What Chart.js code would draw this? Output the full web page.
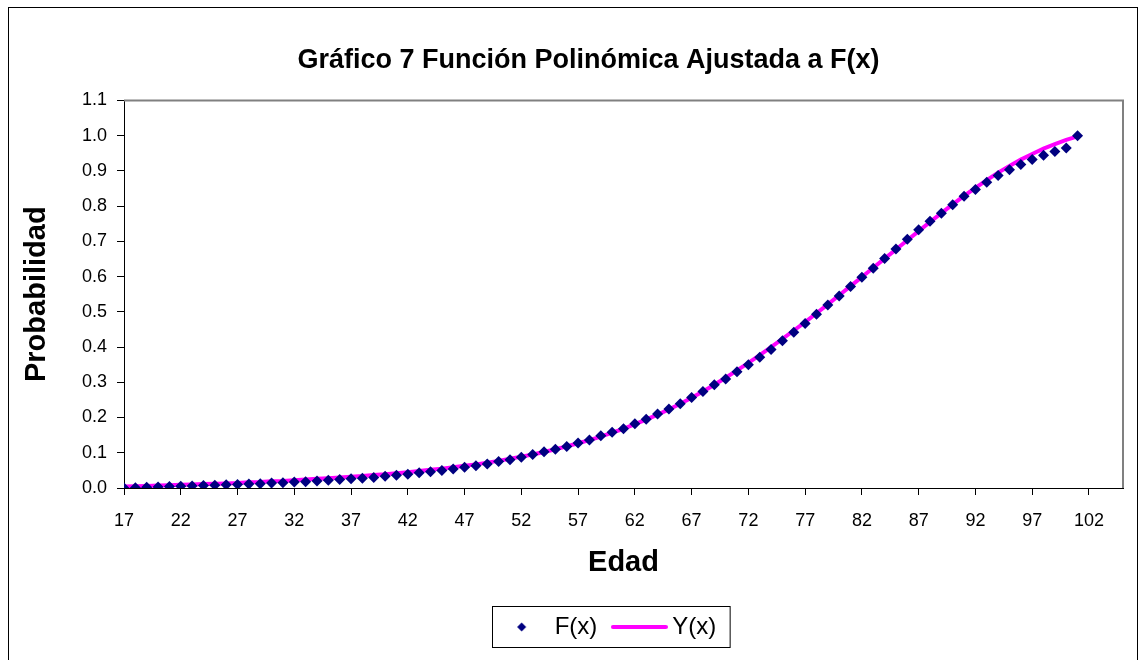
<!DOCTYPE html>
<html lang="es">
<head>
<meta charset="utf-8">
<title>Gráfico 7</title>
<script src="https://cdn.jsdelivr.net/npm/chart.js@4/dist/chart.umd.min.js"></script>
<style>
  html, body { margin: 0; padding: 0; background: #fff; }
  #wrap { width: 1145px; height: 660px; }
</style>
</head>
<body>
<div id="wrap"><canvas id="grafico7" width="1145" height="660"></canvas></div>
<script>
// edades (eje X)
const edades = [
  17, 18, 19, 20, 21, 22, 23, 24, 25, 26, 27, 28, 29, 30, 31, 32, 33, 34, 35, 36,
  37, 38, 39, 40, 41, 42, 43, 44, 45, 46, 47, 48, 49, 50, 51, 52, 53, 54, 55, 56,
  57, 58, 59, 60, 61, 62, 63, 64, 65, 66, 67, 68, 69, 70, 71, 72, 73, 74, 75, 76,
  77, 78, 79, 80, 81, 82, 83, 84, 85, 86, 87, 88, 89, 90, 91, 92, 93, 94, 95, 96,
  97, 98, 99, 100, 101,
];

// F(x) observada
const valoresF = [
  0.000, 0.001, 0.002, 0.003, 0.004, 0.005, 0.006, 0.007, 0.008, 0.009,
  0.010, 0.011, 0.012, 0.014, 0.015, 0.017, 0.018, 0.020, 0.022, 0.024,
  0.026, 0.028, 0.030, 0.033, 0.036, 0.039, 0.043, 0.046, 0.050, 0.054,
  0.059, 0.063, 0.068, 0.075, 0.080, 0.087, 0.095, 0.103, 0.110, 0.118,
  0.128, 0.136, 0.148, 0.158, 0.168, 0.182, 0.195, 0.210, 0.224, 0.239,
  0.257, 0.274, 0.293, 0.309, 0.330, 0.350, 0.371, 0.393, 0.418, 0.442,
  0.467, 0.493, 0.519, 0.545, 0.572, 0.598, 0.624, 0.651, 0.678, 0.706,
  0.733, 0.757, 0.780, 0.804, 0.828, 0.847, 0.868, 0.887, 0.903, 0.918,
  0.932, 0.944, 0.955, 0.965, 1.000,
];

// Y(x) polinomio ajustado
const valoresY = [
  0.004, 0.005, 0.006, 0.007, 0.008, 0.009, 0.010, 0.011, 0.012, 0.013,
  0.014, 0.016, 0.017, 0.019, 0.020, 0.022, 0.024, 0.026, 0.028, 0.030,
  0.032, 0.034, 0.037, 0.039, 0.042, 0.045, 0.048, 0.052, 0.055, 0.059,
  0.063, 0.067, 0.072, 0.077, 0.083, 0.089, 0.095, 0.102, 0.110, 0.118,
  0.127, 0.136, 0.146, 0.157, 0.168, 0.181, 0.194, 0.208, 0.223, 0.239,
  0.256, 0.274, 0.293, 0.313, 0.334, 0.355, 0.377, 0.400, 0.423, 0.447,
  0.471, 0.496, 0.521, 0.547, 0.573, 0.599, 0.625, 0.651, 0.677, 0.703,
  0.729, 0.755, 0.780, 0.805, 0.829, 0.852, 0.874, 0.895, 0.914, 0.932,
  0.948, 0.963, 0.976, 0.988, 0.998,
];

// etiquetas del eje X
const ticksEdad = [17, 22, 27, 32, 37, 42, 47, 52, 57, 62, 67, 72, 77, 82, 87, 92, 97, 102];

const FUENTE = 'Arial, "Liberation Sans", sans-serif';

// simbolos de la leyenda (mismo ancho que en Excel)
function simbolo(tipo) {
  const c = document.createElement('canvas');
  c.width = 57;
  c.height = 12;
  const g = c.getContext('2d');
  if (tipo === 'rombo') {
    g.fillStyle = '#000080';
    g.beginPath();
    g.moveTo(28.5, 1.5);
    g.lineTo(33, 6);
    g.lineTo(28.5, 10.5);
    g.lineTo(24, 6);
    g.closePath();
    g.fill();
  } else {
    g.strokeStyle = '#FF00FF';
    g.lineWidth = 4;
    g.lineCap = 'round';
    g.beginPath();
    g.moveTo(2, 6);
    g.lineTo(55, 6);
    g.stroke();
  }
  return c;
}
const simbolos = [simbolo('rombo'), simbolo('linea')];

// marco del grafico, borde del area de trazado y caja de la leyenda
const marcos = {
  id: 'marcos',
  afterLayout(chart) {
    // en Excel el titulo y la leyenda quedan algo a la derecha del centro
    chart.titleBlock.left += 27;
    chart.titleBlock.right += 27;
    chart.legend.left += 47;
    chart.legend.right += 47;
  },
  beforeDatasetsDraw(chart) {
    const { ctx, chartArea: a } = chart;
    ctx.save();
    ctx.strokeStyle = '#808080';
    ctx.lineWidth = 2;
    ctx.beginPath();
    ctx.moveTo(a.left, a.top);
    ctx.lineTo(a.right, a.top);
    ctx.lineTo(a.right, a.bottom);
    ctx.stroke();
    ctx.restore();
  },
  afterDraw(chart) {
    const { ctx } = chart;
    ctx.save();
    ctx.strokeStyle = '#000';
    ctx.lineWidth = 1;
    ctx.strokeRect(8.5, 7.5, 1129, 700);
    const cajas = chart.legend.legendHitBoxes;
    if (cajas && cajas.length) {
      const izq = Math.min(...cajas.map((b) => b.left));
      const der = Math.max(...cajas.map((b) => b.left + b.width));
      const cy = cajas[0].top + cajas[0].height / 2;
      ctx.strokeRect(Math.round(izq) - 8.5, Math.round(cy) - 20.5, der - izq + 22, 41);
    }
    ctx.restore();
  },
};

const ctx = document.getElementById('grafico7').getContext('2d');

new Chart(ctx, {
  type: 'line',
  data: {
    datasets: [
      {
        label: 'F(x)',
        data: edades.map((e, i) => ({ x: e, y: valoresF[i] })),
        showLine: false,
        pointStyle: 'rectRot',
        pointRadius: 5.5,
        pointHoverRadius: 5.5,
        pointBackgroundColor: '#000080',
        pointBorderColor: '#000080',
        pointBorderWidth: 0,
        borderColor: '#000080',
        backgroundColor: '#000080',
      },
      {
        label: 'Y(x)',
        data: edades.map((e, i) => ({ x: e, y: valoresY[i] })),
        borderColor: '#FF00FF',
        backgroundColor: '#FF00FF',
        borderWidth: 4,
        pointRadius: 0,
        tension: 0,
        fill: false,
      },
    ],
  },
  options: {
    responsive: false,
    animation: false,
    layout: { padding: { left: 0, right: 22, top: 0, bottom: 11 } },
    plugins: {
      title: {
        display: true,
        text: 'Gráfico 7 Función Polinómica Ajustada a F(x)',
        color: '#000',
        font: { family: FUENTE, size: 27, weight: 'bold' },
        padding: { top: 44, bottom: 24 },
      },
      legend: {
        position: 'bottom',
        labels: {
          color: '#000',
          font: { family: FUENTE, size: 24 },
          usePointStyle: true,
          pointStyleWidth: 42,
          padding: 21,
          generateLabels(chart) {
            const items = Chart.defaults.plugins.legend.labels.generateLabels(chart);
            items.forEach((it, i) => { it.pointStyle = simbolos[i]; });
            return items;
          },
        },
      },
      tooltip: { enabled: false },
    },
    scales: {
      x: {
        type: 'linear',
        min: 17,
        max: 105,
        afterBuildTicks(scale) {
          scale.ticks = ticksEdad.map((v) => ({ value: v }));
        },
        afterFit(scale) { scale.height = 106; },
        ticks: {
          color: '#000',
          font: { family: FUENTE, size: 18 },
          padding: 15,
          maxRotation: 0,
          autoSkip: false,
        },
        grid: { drawOnChartArea: false, drawTicks: true, tickLength: 7, color: '#000' },
        border: { display: true, color: '#000', width: 1 },
        title: {
          display: true,
          text: 'Edad',
          color: '#000',
          font: { family: FUENTE, size: 29, weight: 'bold' },
          padding: { top: 0, bottom: 14 },
        },
      },
      y: {
        min: 0,
        max: 1.1,
        afterFit(scale) { scale.width = 124; },
        ticks: {
          stepSize: 0.1,
          color: '#000',
          font: { family: FUENTE, size: 18 },
          padding: 10,
          callback: (v) => v.toFixed(1),
        },
        grid: { drawOnChartArea: false, drawTicks: true, tickLength: 7, color: '#000' },
        border: { display: true, color: '#000', width: 1 },
        title: {
          display: true,
          text: 'Probabilidad',
          color: '#000',
          font: { family: FUENTE, size: 29, weight: 'bold' },
          padding: { top: 20, bottom: 0 },
        },
      },
    },
  },
  plugins: [marcos],
});
</script>
</body>
</html>
